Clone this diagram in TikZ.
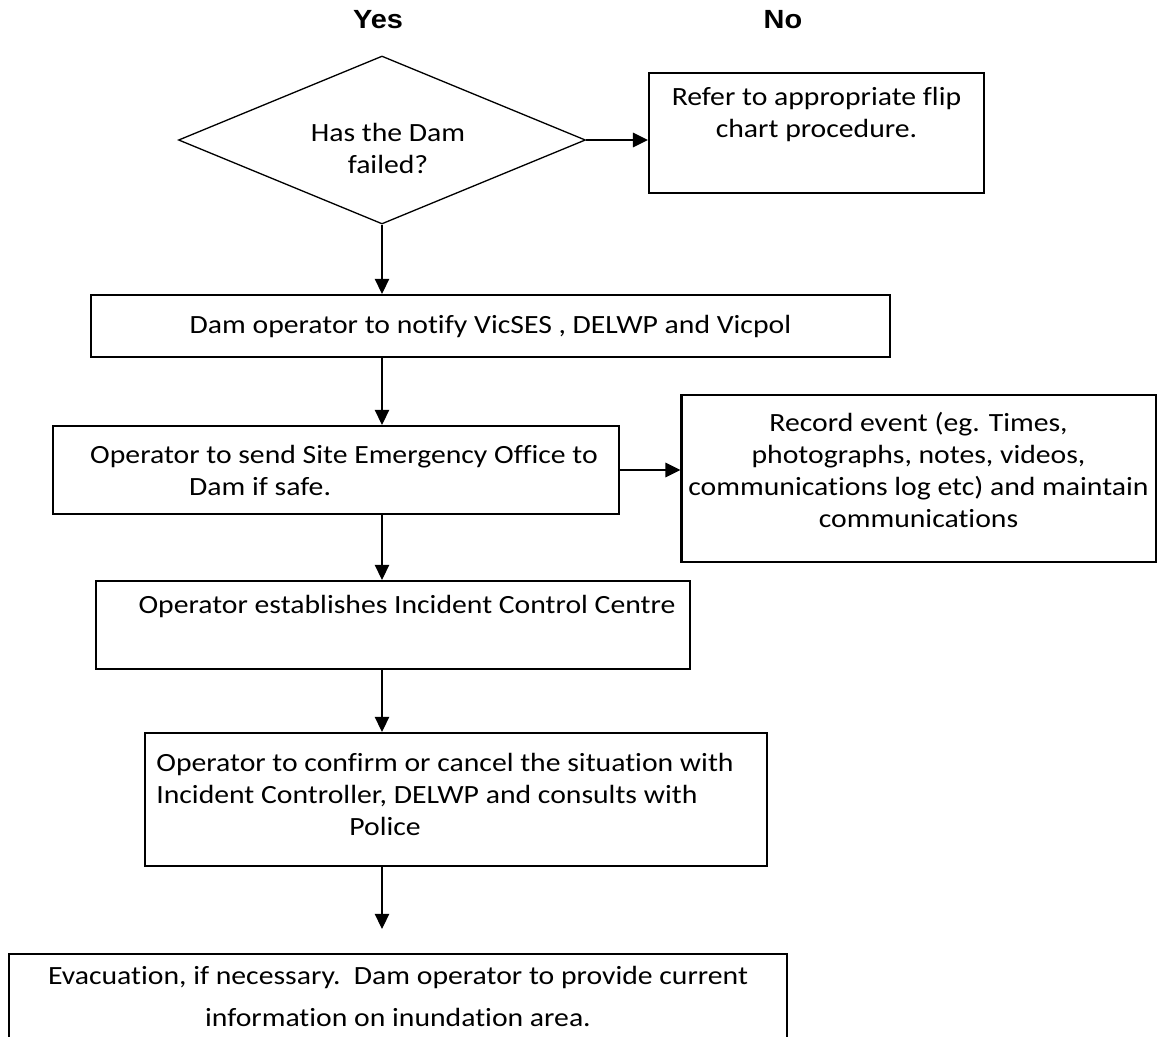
\documentclass[tikz,border=0pt]{standalone}
\usepackage{fontspec}
\setmainfont{Carlito}[Ligatures=NoCommon, FakeStretch=1.13]
\newfontfamily\arialfont{Liberation Sans}[FakeStretch=1.1]
\usetikzlibrary{shapes.geometric, arrows.meta, positioning}
\newlength\px
\setlength\px{0.4185pt}

\begin{document}
\begin{tikzpicture}[x=0.4185pt, y=-0.4185pt, >={Triangle[length=6.3pt,width=6pt]},
  block/.style={rectangle, draw, line width=0.85pt, align=center, inner sep=0pt, font=\fontsize{11}{13.4}\selectfont},
  decision/.style={diamond, draw, line width=0.55pt, align=center, inner sep=0pt, aspect=2.42, font=\fontsize{11}{13.4}\selectfont},
  answer/.style={font=\arialfont\bfseries\fontsize{11}{13.4}\selectfont},
  line/.style={draw, ->, line width=0.45pt},
  bline/.style={draw, ->, line width=0.85pt}]

  \useasboundingbox (0,0) rectangle (1159,1036);

  \node [answer] (yes) at (378,20) {Yes};
  \node [answer] (no) at (783,20) {No};
  \node [decision, minimum width=407\px, minimum height=168\px] (failed) at (382,140) {\rule{0pt}{15pt}\hspace*{12\px}Has the Dam\\\hspace*{12\px}failed?};
  \node [block, minimum width=335\px, minimum height=120\px] (refer) at (816.5,133) {Refer to appropriate flip\\chart procedure.\\ \strut};
  \node [block, minimum width=799\px, minimum height=62\px] (notify) at (490.5,326) {Dam operator to notify VicSES , DELWP and Vicpol};
  \node [block, align=left, minimum width=566\px, minimum height=88\px] (send) at (336,470) {\hspace*{16\px}Operator to send Site Emergency Office to\\\hspace*{115\px}Dam if safe.};
  \node [block, minimum width=474\px, minimum height=167\px] (record) at (918.5,478.5) {Record event (eg. Times,\\photographs, notes, videos,\\communications log etc) and maintain\\communications\\[-10pt]\strut};
  \node [block, minimum width=594\px, minimum height=88\px] (centre) at (393,625) {\hspace*{28\px}Operator establishes Incident Control Centre\\ \strut};
  \node [block, align=left, minimum width=622\px, minimum height=133\px] (confirm) at (456,799.5) {Operator to confirm or cancel the situation with\hspace*{22\px}\\Incident Controller, DELWP and consults with\\\hspace*{193\px}Police\rule[-4.5pt]{0pt}{0pt}};
  \node [block, font=\fontsize{11}{17.6}\selectfont, minimum width=778\px, minimum height=84\px] (evac) at (398,996) {Evacuation, if necessary.\ \ Dam operator to provide current\\information on inundation area.};

  \path [bline] (failed.east) -- (failed.east -| refer.west);
  \path [line] (failed.south) -- (failed.south |- notify.north);
  \path [line] (failed.south |- notify.south) -- (failed.south |- send.north);
  \path [bline] (send.east) -- (send.east -| record.west);
  \path [line] (failed.south |- send.south) -- (failed.south |- centre.north);
  \path [line] (failed.south |- centre.south) -- (failed.south |- confirm.north);
  \path [line, shorten >=24\px] (failed.south |- confirm.south) -- (failed.south |- evac.north);
\end{tikzpicture}
\end{document}
